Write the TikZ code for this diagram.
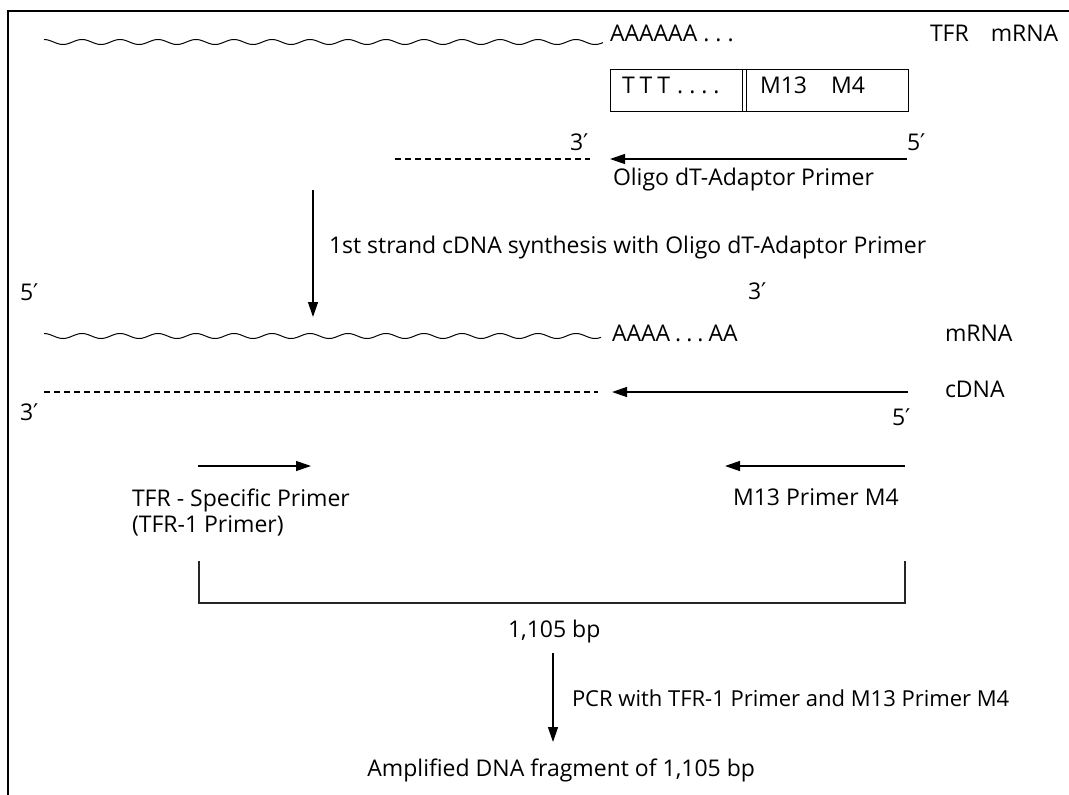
\documentclass[tikz,border=0pt]{standalone}
\usepackage{fontspec}
\setmainfont{Open Sans}
\newfontfamily\dvfont{DejaVu Sans}
\newcommand{\prm}{{\dvfont ′}}
\usetikzlibrary{arrows.meta}
\tikzset{
  lbl/.style={inner sep=0pt, outer sep=0pt, anchor=base west, font=\fontsize{23}{27}\selectfont},
  arr/.style={line width=1.3pt, -{Triangle[length=15pt,width=10pt]}},
  wavy/.style={line width=1pt},
  dsh/.style={line width=1.1pt, dash pattern=on 6pt off 4pt},
  frm/.style={line width=2pt},
  brk/.style={line width=2pt, draw=black!85},
  bx/.style={line width=1pt}
}
\begin{document}
\begin{tikzpicture}[x=1pt,y=-1pt]
\useasboundingbox (0,0) rectangle (1069,795);
% frame
\draw[frm] (8,795) -- (8,11) -- (1069,11);
% TFR mRNA line
\draw[wavy] plot[domain=0:559, samples=400] ({44+\x}, {42-2.5*cos(\x/38*360)});
\node[lbl] (polyA1) at (610,41) {AAAAAA\kern6pt.\kern6pt.\kern6pt.};
\node[lbl] (tfrm) at (930,41) {TFR\hspace{22pt}mRNA};
% adaptor box
\draw[bx] (610,69) rectangle (908,111);
\draw[bx] (742,69) -- (742,111);
\draw[bx] (746,69) -- (746,111);
\node[lbl] (ttt) at (622,93) {T\kern5pt T\kern5pt T\kern7pt.\kern6pt.\kern6pt.\kern6pt.};
\node[lbl] (m13m4) at (760,93) {M13\hspace{24pt}M4};
% primer
\node[lbl] (p3a) at (570,150) {3\prm};
\node[lbl] (p5a) at (907,150) {5\prm};
\coordinate (d1s) at (395,159);
\coordinate (d1e) at (590,159);
\draw[dsh] (d1s) -- (d1e);
\coordinate (a1s) at (907,159);
\coordinate (a1e) at (610,159);
\draw[arr] (a1s) -- (a1e);
\node[lbl] (oligo) at (613,185) {Oligo dT-Adaptor Primer};
% step 1 arrow
\coordinate (v1s) at (313,190);
\coordinate (v1e) at (313,317);
\draw[arr] (v1s) -- (v1e);
\node[lbl] (step1) at (329,253) {1st strand cDNA synthesis with Oligo dT-Adaptor Primer};
% mRNA / cDNA
\node[lbl] (p5b) at (20,300) {5\prm};
\node[lbl] (p3b) at (748,299) {3\prm};
\draw[wavy] plot[domain=0:557, samples=400] ({44+\x}, {336-2.5*cos(\x/38*360)});
\node[lbl] (polyA2) at (612,341) {AAAA\kern5pt.\kern5pt.\kern5pt.\kern5pt AA};
\node[lbl] (mrna) at (945,341) {mRNA};
\coordinate (d2s) at (44,392);
\coordinate (d2e) at (598,392);
\draw[dsh] (d2s) -- (d2e);
\coordinate (a2s) at (908,392);
\coordinate (a2e) at (612,392);
\draw[arr] (a2s) -- (a2e);
\node[lbl] (cdna) at (945,397) {cDNA};
\node[lbl] (p3c) at (20,420) {3\prm};
\node[lbl] (p5c) at (892,425) {5\prm};
% PCR primers
\coordinate (a3s) at (198,466);
\coordinate (a3e) at (311,466);
\draw[arr] (a3s) -- (a3e);
\coordinate (a4s) at (905,466);
\coordinate (a4e) at (725,466);
\draw[arr] (a4s) -- (a4e);
\node[lbl] (tfrsp) at (132,506) {TFR - Specific Primer};
\node[lbl] (tfr1) at (132,532) {(TFR-1 Primer)};
\node[lbl] (m13p) at (733,505) {M13 Primer M4};
% bracket
\coordinate (b1) at (199,561);
\coordinate (b2) at (199,603);
\coordinate (b3) at (905,603);
\coordinate (b4) at (905,561);
\draw[brk] (b1) -- (b2) -- (b3) -- (b4);
\node[lbl] (bp) at (508,637) {1,105 bp};
% PCR step
\coordinate (v2s) at (553,653);
\coordinate (v2e) at (553,742);
\draw[arr] (v2s) -- (v2e);
\node[lbl, font=\fontsize{22}{27}\selectfont] (pcr) at (572,706) {PCR with TFR-1 Primer and M13 Primer M4};
\node[lbl, anchor=base east] (ampl) at (755,776) {Amplified DNA fragment of 1,105 bp};
\end{tikzpicture}
\end{document}
